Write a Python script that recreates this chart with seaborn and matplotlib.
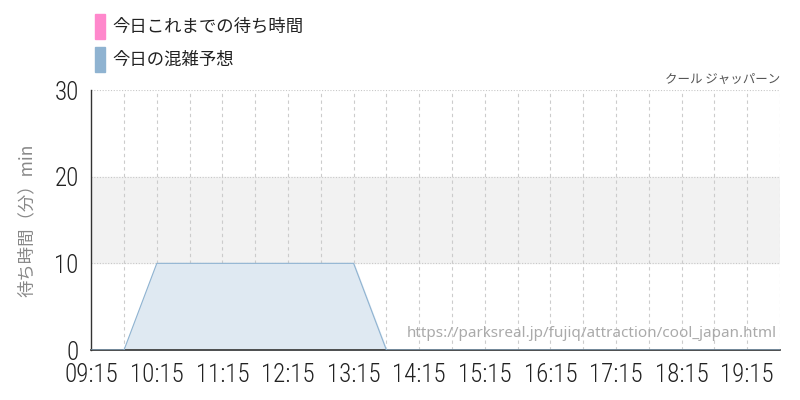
import numpy as np
import pandas as pd
import matplotlib
matplotlib.use("Agg")
import matplotlib.pyplot as plt
import matplotlib.patches as mpatches
import seaborn as sns

# 15-minute slots, 09:15 .. 19:45
times = ["09:15", "09:30", "09:45", "10:00", "10:15", "10:30", "10:45",
         "11:00", "11:15", "11:30", "11:45", "12:00", "12:15", "12:30",
         "12:45", "13:00", "13:15", "13:30", "13:45", "14:00", "14:15",
         "14:30", "14:45", "15:00", "15:15", "15:30", "15:45", "16:00",
         "16:15", "16:30", "16:45", "17:00", "17:15", "17:30", "17:45",
         "18:00", "18:15", "18:30", "18:45", "19:00", "19:15", "19:30",
         "19:45"]
forecast = [0, 0, 0, 5, 10, 10, 10,
            10, 10, 10, 10, 10, 10, 10,
            10, 10, 10, 5, 0, 0, 0,
            0, 0, 0, 0, 0, 0, 0,
            0, 0, 0, 0, 0, 0, 0,
            0, 0, 0, 0, 0, 0, 0,
            0]
tick_labels = ["09:15", "10:15", "11:15", "12:15", "13:15", "14:15",
               "15:15", "16:15", "17:15", "18:15", "19:15"]
y_ticks = [0, 10, 20, 30]

title = "クール ジャッパーン"
legend_labels = ["今日これまでの待ち時間", "今日の混雑予想"]
legend_colors = ["#ff88cc", "#8fb3d1"]
url = "https://parksreal.jp/fujiq/attraction/cool_japan.html"


def to_hours(t):
    h, m = t.split(":")
    return int(h) + int(m) / 60


df = pd.DataFrame({"x": [to_hours(t) for t in times], "wait": forecast})

sns.set_style("white")
jp = ["Noto Sans CJK JP", "DejaVu Sans"]
narrow = ["Roboto Condensed", "DejaVu Sans"]
plt.rcParams["font.family"] = jp

fig = plt.figure(figsize=(8, 4), dpi=100)
ax = fig.add_axes([0.114, 0.125, 0.861, 0.65])

# 10-20 band
ax.axhspan(10, 20, color="#f2f2f2", zorder=0)

ax.fill_between(df["x"], df["wait"], 0, color="#dfe9f2", zorder=2)
sns.lineplot(data=df, x="x", y="wait", ax=ax, color="#8fb3d1",
             linewidth=0.8, zorder=3)

x_min, x_max = to_hours("09:15"), to_hours("19:45")
ax.set_xlim(x_min, x_max)
ax.set_ylim(0, 30)

# grid: vertical every 30 min, horizontal at 10 / 20 / 30
for v in np.arange(x_min + 0.5, x_max + 0.01, 0.5):
    ax.axvline(v, color="#cccccc", lw=0.8, ls=(0, (3, 3)), zorder=1)
for h in y_ticks[1:]:
    ax.axhline(h, color="#c8c8c8", lw=0.8, ls=(0, (1, 1.5)), zorder=1)

ax.set_xticks([to_hours(t) for t in tick_labels])
ax.set_xticklabels(tick_labels, family=narrow, fontsize=18, weight="light",
                   color="#222222")
ax.set_yticks(y_ticks)
ax.set_yticklabels([str(v) for v in y_ticks], family=narrow, fontsize=18,
                   weight="light", color="#222222")
ax.tick_params(axis="both", length=8, color="#cccccc", width=0.8, pad=1)
ax.set_xlabel("")
ax.set_ylabel("待ち時間（分）min", fontsize=12.5, color="#888888", labelpad=13)

for side in ["top", "right"]:
    ax.spines[side].set_visible(False)
ax.spines["left"].set_color("#333333")
ax.spines["bottom"].set_color("#333333")
ax.spines["left"].set_linewidth(1)
ax.spines["bottom"].set_linewidth(1.2)

ax.text(1.0, 1.015, title, transform=ax.transAxes, ha="right", va="bottom",
        fontsize=9, color="#555555")
ax.text(0.995, 0.035, url, transform=ax.transAxes, ha="right", va="bottom",
        fontsize=11, color="#aaaaaa", family=["Noto Sans", "DejaVu Sans"])

# legend boxes at top-left
for i, (lab, col) in enumerate(zip(legend_labels, legend_colors)):
    y0 = 1 - (14 + i * 33) / 400
    fig.patches.append(mpatches.Rectangle((95 / 800, y0 - 25 / 400), 10 / 800,
                                          25 / 400, transform=fig.transFigure,
                                          color=col))
    fig.text(112 / 800, y0 - 12.5 / 400, lab, fontsize=12.5, va="center",
             ha="left", color="#222222")

fig.savefig("out.png", dpi=100)
